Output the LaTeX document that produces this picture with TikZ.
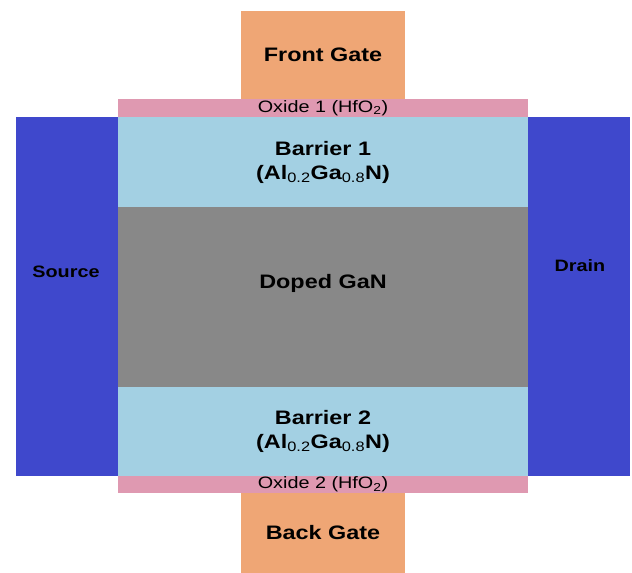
\documentclass[tikz,border=0pt]{standalone}
\usepackage{fontspec}
\setmainfont{Liberation Sans}[FakeStretch=1.2]
\usepackage{tikz}
\definecolor{gateorange}{RGB}{239, 166, 117}
\definecolor{oxidepink}{RGB}{223, 153, 177}
\definecolor{barrierblue}{RGB}{163, 208, 227}
\definecolor{gangray}{RGB}{136, 136, 136}
\definecolor{contactblue}{RGB}{63, 72, 204}
\newcommand{\fracsub}[1]{\textsubscript{\mdseries #1}}

\begin{document}
\begin{tikzpicture}[
    x=1pt, y=-1pt,
    layer/.style={anchor=north west, inner sep=0pt, outer sep=0pt, align=center},
    big/.style={font=\fontsize{19.5}{24}\selectfont\bfseries},
    small/.style={font=\fontsize{16.5}{19}\selectfont}
  ]
  \useasboundingbox (0,0) rectangle (632,573);

  % contacts
  \node[layer, fill=contactblue, minimum width=102pt, minimum height=359pt] (source) at (16,117) {};
  \node[layer, fill=contactblue, minimum width=102pt, minimum height=359pt] (drain) at (528,117) {};

  % stack
  \node[layer, big, fill=gateorange, minimum width=164pt, minimum height=88pt] (frontgate) at (241,11) {Front Gate};
  \node[layer, small, fill=oxidepink, minimum width=410pt, minimum height=18pt] (oxidetop) at (118,99) {Oxide 1 (HfO\textsubscript{2})};
  \node[layer, big, fill=barrierblue, minimum width=410pt, minimum height=90pt] (barriertop) at (118,117)
    {Barrier 1\\(Al\fracsub{0.2}Ga\fracsub{0.8}N)};
  \node[layer, fill=gangray, minimum width=410pt, minimum height=180pt] (channel) at (118,207) {};
  \node[layer, big, fill=barrierblue, minimum width=410pt, minimum height=89pt] (barrierbot) at (118,387)
    {Barrier 2\\(Al\fracsub{0.2}Ga\fracsub{0.8}N)};
  \node[layer, small, fill=oxidepink, minimum width=410pt, minimum height=17pt] (oxidebot) at (118,476) {Oxide 2 (HfO\textsubscript{2})};
  \node[layer, big, fill=gateorange, minimum width=164pt, minimum height=80pt] (backgate) at (241,493) {Back Gate};

  % labels
  \node[big] (channeltext) at (323,283) {Doped GaN};
  \node[font=\fontsize{16.5}{20}\selectfont\bfseries] (sourcetext) at (66,272) {Source};
  \node[font=\fontsize{16.5}{20}\selectfont\bfseries] (draintext) at (580,266) {Drain};
\end{tikzpicture}
\end{document}
